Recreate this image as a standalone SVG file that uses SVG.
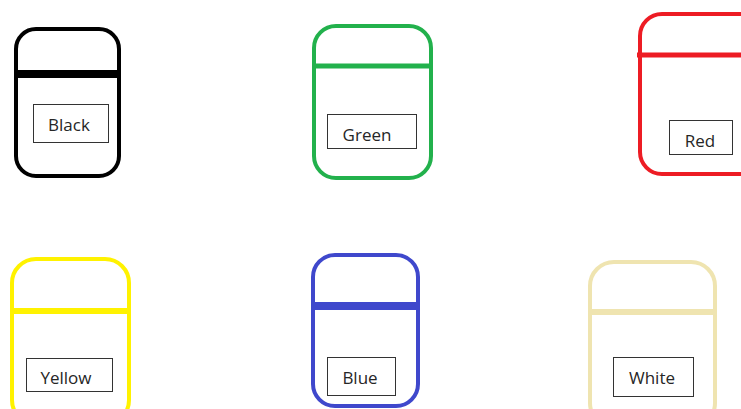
<svg xmlns="http://www.w3.org/2000/svg" width="741" height="409" viewBox="0 0 741 409">
<style>
.shell{fill:none;stroke-width:4}
.band{stroke-linecap:butt}
.box{fill:#fff;stroke:#333;stroke-width:1}
.lbl{font-family:"Open Sans","Noto Sans",sans-serif;font-size:17px;fill:#262626;text-anchor:middle;dominant-baseline:central}
</style>
<rect width="741" height="409" fill="#fff"/>
<g id="black">
<rect class="shell" x="16" y="29" width="103" height="147" rx="20" stroke="#000"/>
<line class="band" x1="16" y1="74" x2="119" y2="74" stroke="#000" stroke-width="8"/>
<rect class="box" x="33.5" y="104.5" width="75" height="38"/>
<text class="lbl" x="69" y="124">Black</text>
</g>
<g id="green">
<rect class="shell" x="314" y="26" width="117" height="152" rx="22" stroke="#22B14C"/>
<line class="band" x1="314" y1="66" x2="431" y2="66" stroke="#22B14C" stroke-width="5"/>
<rect class="box" x="327.5" y="114.5" width="89" height="34"/>
<text class="lbl" x="367" y="134">Green</text>
</g>
<g id="red">
<rect class="shell" x="640" y="14" width="130" height="160" rx="22" stroke="#ED1C24"/>
<line class="band" x1="637" y1="55" x2="741" y2="55" stroke="#ED1C24" stroke-width="5"/>
<rect class="box" x="669.5" y="120.5" width="63" height="34"/>
<text class="lbl" x="700" y="140">Red</text>
</g>
<g id="yellow">
<rect class="shell" x="12" y="259" width="117" height="165" rx="24" stroke="#FFF200"/>
<line class="band" x1="12" y1="311" x2="129" y2="311" stroke="#FFF200" stroke-width="6"/>
<rect class="box" x="26.5" y="358.5" width="86" height="33"/>
<text class="lbl" x="66" y="377">Yellow</text>
</g>
<g id="blue">
<rect class="shell" x="313" y="255" width="105" height="151" rx="22" stroke="#3F48CC"/>
<line class="band" x1="313" y1="306" x2="418" y2="306" stroke="#3F48CC" stroke-width="8"/>
<rect class="box" x="327.5" y="357.5" width="68" height="38"/>
<text class="lbl" x="360" y="377">Blue</text>
</g>
<g id="white">
<rect class="shell" x="590" y="262" width="125" height="165" rx="24" stroke="#EFE4B0"/>
<line class="band" x1="590" y1="312" x2="715" y2="312" stroke="#EFE4B0" stroke-width="6"/>
<rect class="box" x="613.5" y="357.5" width="80" height="39"/>
<text class="lbl" x="652" y="377">White</text>
</g>
<g id="connectors"/>
</svg>
